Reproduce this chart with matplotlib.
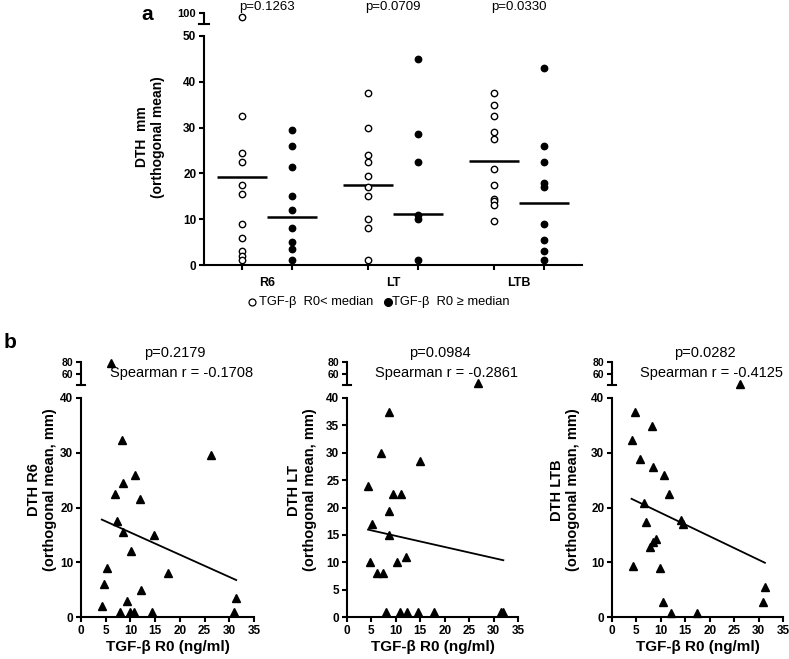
import matplotlib
matplotlib.use("Agg")
import matplotlib.pyplot as plt
import matplotlib.transforms as mtransforms
from matplotlib.lines import Line2D
import numpy as np

plt.rcParams["font.family"] = ["Liberation Sans", "DejaVu Sans"]

W, H = 789, 659

# ---- panel a data (DTH mm, orthogonal mean) ----
groups = ["R6", "LT", "LTB"]
p_values_a = ["p=0.1263", "p=0.0709", "p=0.0330"]

r6_low = [98, 32.5, 24.5, 22.5, 17.5, 15.5, 9, 6, 3, 2, 1]
r6_high = [29.5, 26, 21.5, 15, 12, 8, 5, 3.5, 1]
lt_low = [37.5, 30, 24, 22.5, 19.5, 17, 15, 10, 8, 1]
lt_high = [45, 28.5, 22.5, 11, 10, 1]
ltb_low = [37.5, 35, 32.5, 29, 27.5, 21, 17.5, 14.5, 14, 13, 9.5]
ltb_high = [43, 26, 22.5, 18, 17, 9, 5.5, 3, 1]

low_groups = [r6_low, lt_low, ltb_low]
high_groups = [r6_high, lt_high, ltb_high]
low_medians = [19.2, 17.5, 22.8]
high_medians = [10.4, 11.2, 13.5]

# ---- panel b data (TGF-beta R0 vs DTH) ----
r6_tgf = [6.1, 8.3, 26.3, 10.9, 8.55, 6.9, 11.9, 7.3, 8.55, 14.7, 10.1, 5.2,
          17.6, 4.7, 12.2, 31.4, 9.35, 4.2, 7.9, 10.0, 10.8, 14.3, 31.0]
r6_dth = [78, 32.4, 29.5, 26, 24.5, 22.5, 21.5, 17.5, 15.5, 15, 12, 9,
          8, 6, 5, 3.5, 3, 2, 1, 1, 1, 1, 1]

lt_tgf = [26.8, 8.5, 6.9, 15.0, 4.3, 9.4, 11.1, 8.6, 5.2, 8.6, 12.1, 4.7,
          10.2, 6.1, 7.4, 8.0, 10.9, 12.3, 14.6, 17.9, 31.6, 32.0]
lt_dth = [43, 37.4, 30, 28.5, 23.9, 22.4, 22.4, 19.4, 16.9, 14.9, 11, 10,
          10, 8, 8, 1, 1, 1, 1, 1, 1, 1]

ltb_tgf = [26.3, 4.8, 8.1, 4.0, 5.8, 8.3, 10.7, 11.7, 6.5, 14.2, 14.5, 7.0,
           9.1, 8.3, 7.8, 4.4, 9.8, 31.3, 10.5, 31.0, 12.0, 17.4]
ltb_dth = [42, 37.4, 34.9, 32.4, 28.8, 27.4, 25.9, 22.4, 20.9, 17.8, 16.9, 17.3,
           14.3, 13.7, 12.8, 9.3, 8.9, 5.4, 2.8, 2.8, 0.8, 0.8]

b_names = ["DTH R6", "DTH LT", "DTH LTB"]
b_p = ["p=0.2179", "p=0.0984", "p=0.0282"]
b_r = ["Spearman r = -0.1708", "Spearman r = -0.2861", "Spearman r = -0.4125"]
fit_intercept = [19.5, 16.83, 23.3]
fit_slope = [-0.406, -0.202, -0.428]
b_tgf = [r6_tgf, lt_tgf, ltb_tgf]
b_dth = [r6_dth, lt_dth, ltb_dth]


def px_rect(left, right, top, bottom):
    return [left / W, 1 - bottom / H, (right - left) / W, (bottom - top) / H]


def style_axis(ax, labelsize):
    for side in ["top", "right"]:
        ax.spines[side].set_visible(False)
    for side in ["left", "bottom"]:
        ax.spines[side].set_linewidth(1.5)
    ax.tick_params(direction="out", length=3.5, width=1.5, labelsize=labelsize, pad=2)
    for lab in ax.get_xticklabels() + ax.get_yticklabels():
        lab.set_fontweight("bold")
    ax.patch.set_visible(False)


fig = plt.figure(figsize=(W / 100, H / 100), dpi=100)

# ================= panel a =================
ax = fig.add_axes(px_rect(204, 582, 36, 265))
ax_top = fig.add_axes(px_rect(204, 582, 13, 24))

centers = np.arange(1, len(groups) + 1)
offset = 0.2
for i, c in enumerate(centers):
    for vals, xpos, face, med in [(low_groups[i], c - offset, "white", low_medians[i]),
                                  (high_groups[i], c + offset, "black", high_medians[i])]:
        v = np.array(vals, dtype=float)
        main = v[v <= 50]
        over = v[v > 50]
        ax.plot(np.full(len(main), xpos), main, "o", ms=4.6, mfc=face, mec="black",
                mew=1.0, clip_on=False, zorder=3)
        ax_top.plot(np.full(len(over), xpos), over, "o", ms=4.6, mfc=face, mec="black",
                    mew=1.0, clip_on=False, zorder=3)
        ax.hlines(med, xpos - 0.2, xpos + 0.2, color="black", lw=1.8, zorder=2)

ax.set_xlim(0.5, 3.5)
ax.set_ylim(0, 50)
ax.set_yticks([0, 10, 20, 30, 40, 50])
ax.set_xticks(np.concatenate([centers - offset, centers + offset]))
ax.set_xticklabels([])
ax.set_xticks(centers, minor=True)
ax.set_xticklabels(groups, minor=True)
ax.tick_params(axis="x", which="minor", length=0, pad=9)
style_axis(ax, 8.5)
for lab in ax.get_xticklabels(minor=True):
    lab.set_fontweight("bold")
    lab.set_fontsize(9)

ax_top.set_xlim(0.5, 3.5)
ax_top.set_ylim(94.5, 100)
ax_top.set_yticks([100])
ax_top.set_xticks([])
style_axis(ax_top, 8)
ax_top.spines["bottom"].set_visible(False)
ax_top.plot([-0.012, 0.012], [0, 0], color="black", lw=1.5,
            transform=ax_top.transAxes, clip_on=False)

trans_a = mtransforms.blended_transform_factory(ax.transData, fig.transFigure)
for c, p in zip(centers, p_values_a):
    ax.text(c, 1 - 7 / H, p, transform=trans_a, ha="center", va="center", fontsize=9.5)

fig.text(150 / W, 1 - 137 / H, "DTH  mm\n(orthogonal mean)", rotation=90,
         ha="center", va="center", multialignment="center", fontsize=10,
         fontweight="bold", linespacing=1.15)
fig.text(147 / W, 1 - 14 / H, "a", ha="center", va="center", fontsize=15, fontweight="bold")

# legend row
fig.add_artist(Line2D([252 / W], [1 - 302 / H], marker="o", ms=5, mfc="white",
                      mec="black", mew=0.9, transform=fig.transFigure))
fig.text(259 / W, 1 - 302 / H, "TGF-β  R0< median", ha="left", va="center", fontsize=9.3)
fig.add_artist(Line2D([388 / W], [1 - 302 / H], marker="o", ms=5.5, mfc="black",
                      mec="black", transform=fig.transFigure))
fig.text(392 / W, 1 - 302 / H, "TGF-β  R0 ≥ median", ha="left", va="center", fontsize=9.3)

# ================= panel b =================
b_left = [81, 347, 612]
b_right = [254, 518, 783]
b_yticks = [[0, 10, 20, 30, 40], [0, 5, 10, 15, 20, 25, 30, 35, 40], [0, 10, 20, 30, 40]]
b_label_x = [42, 302, 565]

for k in range(3):
    axb = fig.add_axes(px_rect(b_left[k], b_right[k], 398, 617))
    axt = fig.add_axes(px_rect(b_left[k], b_right[k], 362, 385))
    x = np.array(b_tgf[k], dtype=float)
    y = np.array(b_dth[k], dtype=float)
    m = y <= 40
    axb.plot(x[m], y[m], "^", ms=5.8, color="black", clip_on=False, zorder=3)
    axt.plot(x[~m], y[~m], "^", ms=5.8, color="black", clip_on=False, zorder=3)
    xf = np.array([x.min(), x.max()])
    axb.plot(xf, fit_intercept[k] + fit_slope[k] * xf, color="black", lw=1.3)

    axb.set_xlim(0, 35)
    axb.set_ylim(0, 40)
    axb.set_xticks(range(0, 36, 5))
    axb.set_yticks(b_yticks[k])
    style_axis(axb, 8.5)

    axt.set_xlim(0, 35)
    axt.set_ylim(40, 80)
    axt.set_yticks([60, 80])
    axt.set_xticks([])
    style_axis(axt, 7.5)
    axt.spines["bottom"].set_visible(False)
    axt.plot([-0.026, 0.026], [0, 0], color="black", lw=1.5,
             transform=axt.transAxes, clip_on=False)

    cx = (b_left[k] + b_right[k]) / 2
    fig.text((cx + 7) / W, 1 - 353 / H, b_p[k], ha="center", va="center", fontsize=10.5)
    fig.text((cx + 14) / W, 1 - 373 / H, b_r[k], ha="center", va="center", fontsize=10.5)
    fig.text(cx / W, 1 - 647 / H, "TGF-β R0 (ng/ml)", ha="center", va="center",
             fontsize=11, fontweight="bold")
    fig.text(b_label_x[k] / W, 1 - 490 / H, b_names[k] + "\n(orthogonal mean, mm)",
             rotation=90, ha="center", va="center", multialignment="center",
             fontsize=10.5, fontweight="bold", linespacing=1.15)

fig.text(10 / W, 1 - 343 / H, "b", ha="center", va="center", fontsize=15, fontweight="bold")

fig.savefig("out.png", dpi=100)
